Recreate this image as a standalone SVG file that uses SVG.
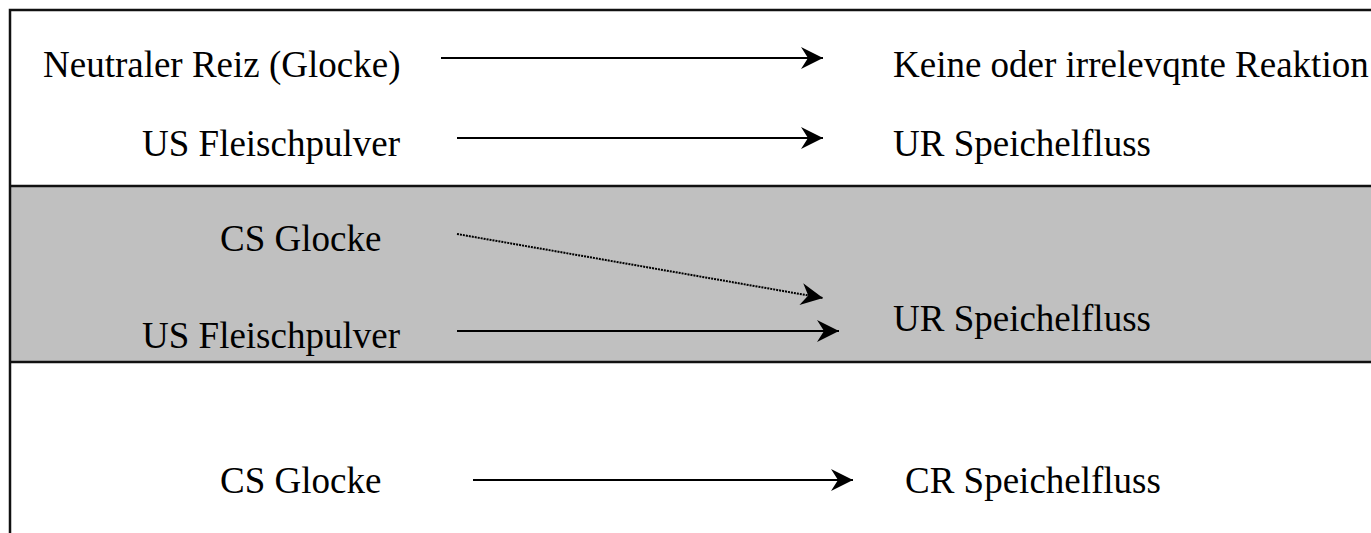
<svg xmlns="http://www.w3.org/2000/svg" width="1371" height="533" viewBox="0 0 1371 533">
<style>
.t{font-family:"Liberation Serif","Times New Roman",serif;font-size:37px;fill:#000}
.c{stroke:#000;stroke-width:2.2;fill:none}
.d{stroke:#000;stroke-width:2;fill:none;stroke-dasharray:2 1}
.f{stroke:#111;stroke-width:2.5;fill:none}
</style>
<defs>
<marker id="ah" markerUnits="userSpaceOnUse" markerWidth="26" markerHeight="26" refX="23" refY="12" orient="auto">
<path d="M23,12 L1,1 L8,12 L1,23 Z" fill="#000"/>
</marker>
</defs>
<g id="frame">
<rect x="10" y="186" width="1362" height="176" fill="#c0c0c0"/>
<path class="f" d="M10,533 V10 H1371"/>
<path class="f" d="M10,186 H1371"/>
<path class="f" d="M10,362 H1371"/>
</g>
<g id="n1"><text class="t" x="43" y="77">Neutraler Reiz (Glocke)</text></g>
<g id="n2"><text class="t" x="893" y="77">Keine oder irrelevqnte Reaktion</text></g>
<g id="n3"><text class="t" x="142" y="156">US Fleischpulver</text></g>
<g id="n4"><text class="t" x="893" y="156">UR Speichelfluss</text></g>
<g id="n5"><text class="t" x="220" y="251">CS Glocke</text></g>
<g id="n6"><text class="t" x="142" y="348">US Fleischpulver</text></g>
<g id="n7"><text class="t" x="893" y="331">UR Speichelfluss</text></g>
<g id="n8"><text class="t" x="220" y="493">CS Glocke</text></g>
<g id="n9"><text class="t" x="905" y="493">CR Speichelfluss</text></g>
<g id="connectors">
<line class="c" x1="441" y1="58" x2="823" y2="58" marker-end="url(#ah)"/>
<line class="c" x1="457" y1="138" x2="823" y2="138" marker-end="url(#ah)"/>
<line class="d" x1="457" y1="234" x2="823" y2="298" marker-end="url(#ah)"/>
<line class="c" x1="457" y1="331" x2="839" y2="331" marker-end="url(#ah)"/>
<line class="c" x1="473" y1="480" x2="853" y2="480" marker-end="url(#ah)"/>
</g>
</svg>
